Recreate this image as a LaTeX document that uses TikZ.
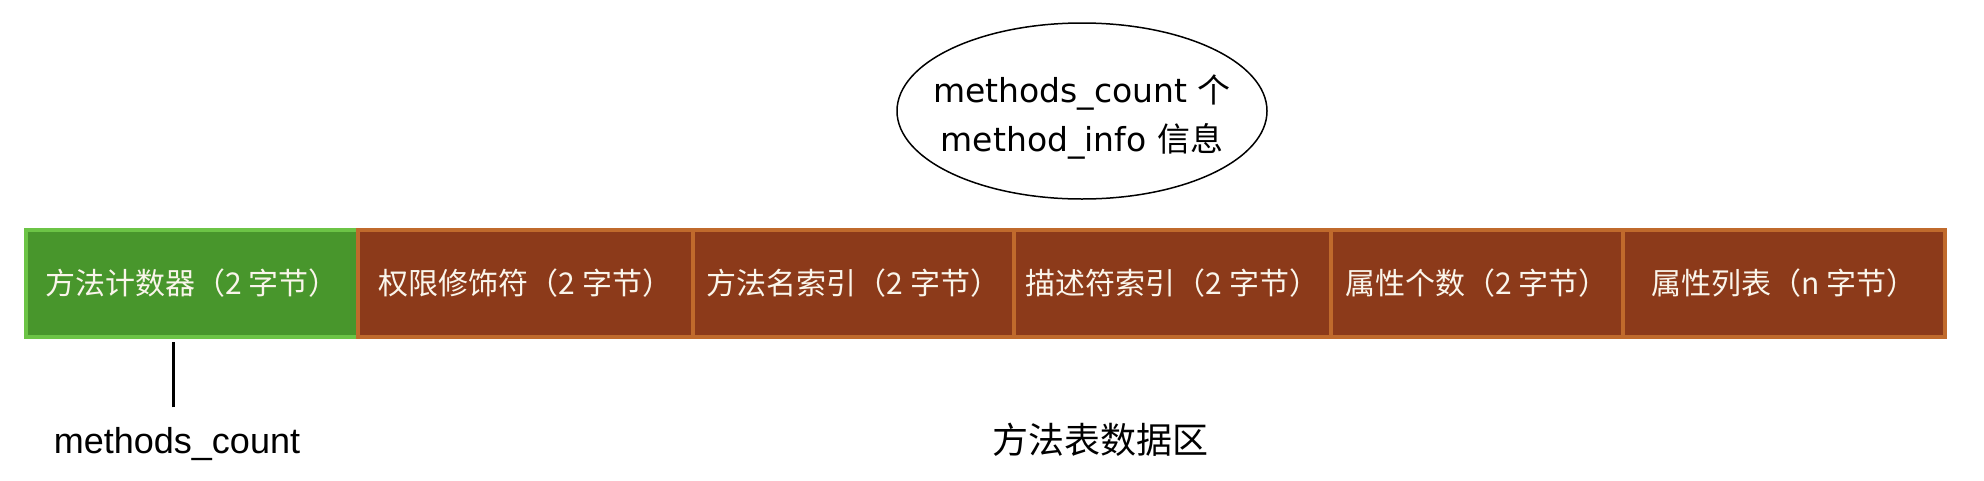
\documentclass[tikz,border=0pt]{standalone}
\usepackage{fontspec}
\setmainfont{Liberation Sans}
\newfontfamily\cjk{Noto Sans CJK SC}
\newfontfamily\handfont{DejaVu Sans}

\definecolor{countgreen}{RGB}{72,150,44}
\definecolor{countedge}{RGB}{108,196,70}
\definecolor{fieldbrown}{RGB}{140,58,26}
\definecolor{fieldedge}{RGB}{192,106,44}
\definecolor{celltext}{RGB}{250,245,235}

\begin{document}
\begin{tikzpicture}[x=1pt, y=-1pt,
    cell/.style={rectangle, draw=fieldedge, fill=fieldbrown, line width=4pt,
        minimum height=107pt, inner sep=0pt, text=celltext,
        font=\cjk\fontsize{30}{36}\selectfont},
    countcell/.style={cell, draw=countedge, fill=countgreen}]
    \useasboundingbox (0,0) rectangle (1984,480);

    % Counter field
    \node[countcell, minimum width=332pt] (count) at (192,283.5) {方法计数器（2 字节）};

    % Fields of each method_info
    \foreach \name/\xa/\xb/\txt in {access/358/693/权限修饰符（2 字节）,
                                    nameidx/693/1014/方法名索引（2 字节）,
                                    descidx/1014/1331/描述符索引（2 字节）,
                                    attrcount/1331/1623/属性个数（2 字节）,
                                    attrs/1623/1945/属性列表（n 字节）} {
        \node[cell, minimum width={\xb-\xa}] (\name) at ({(\xa+\xb)/2},283.5) {\txt};
    }

    % Repeated part
    \node[align=center, inner sep=0pt, font=\handfont\fontsize{33}{49}\selectfont] (info) at (1082,117)
          {methods\_count {\cjk 个}\\method\_info {\cjk 信息}};
    \draw[line width=1.5pt] (1082,111) ellipse [x radius=185, y radius=88];

    % Labels below
    \node[font=\fontsize{36}{40}\selectfont, anchor=base] (countname) at (177,453) {methods\_count};
    \draw[line width=3pt, shorten >=3pt, shorten <=16pt] ([xshift=-4pt]countname.north) -- ([xshift=-4pt]countname.north |- count.south);

    \node[font=\cjk\fontsize{36}{40}\selectfont] (area) at (1100,440) {方法表数据区};
\end{tikzpicture}
\end{document}
